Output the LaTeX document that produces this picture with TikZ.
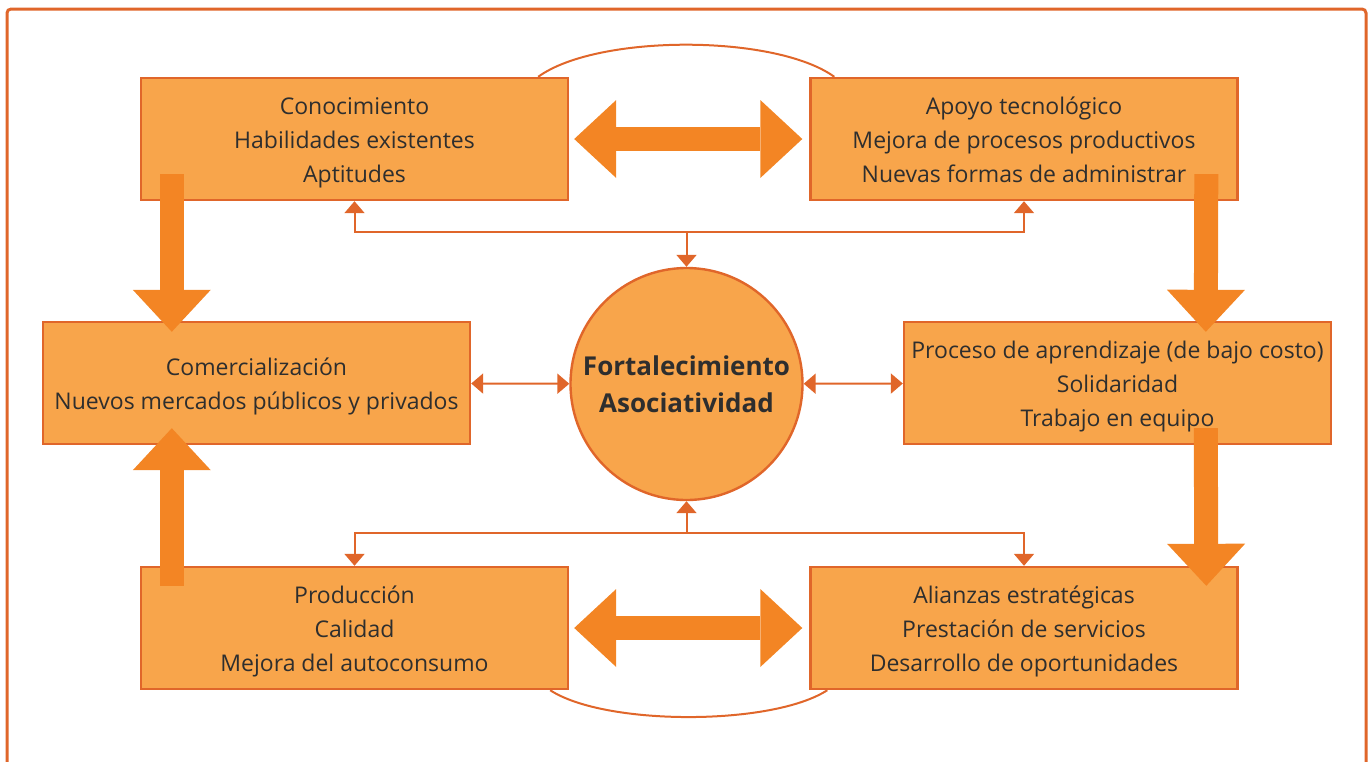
\documentclass[tikz,border=0pt]{standalone}
\usepackage{fontspec}
\setmainfont{Open Sans}
\usetikzlibrary{arrows.meta}
\definecolor{borde}{HTML}{E0662A}
\definecolor{relleno}{HTML}{F8A54B}
\definecolor{flecha}{HTML}{F38524}
\definecolor{texto}{HTML}{2E2E2E}
\newcommand\tope{\rule{0pt}{13pt}}
\begin{document}
\begin{tikzpicture}[x=0.5pt,y=-0.5pt,
  caja/.style={draw=borde, fill=relleno, line width=1.2pt, minimum width=213.5pt, minimum height=61pt, inner sep=0pt, align=center, text=texto, font=\fontsize{11.5}{17}\selectfont,
    execute at end node=\rule[-4pt]{0pt}{4pt}},
  enlace/.style={draw=borde, line width=1pt, {Triangle[width=10pt,length=6pt]}-{Triangle[width=10pt,length=6pt]}},
  grande/.style={draw=flecha, line width=12pt}]
\useasboundingbox (0,0) rectangle (1371,761);
\draw[borde, line width=1.5pt, rounded corners=2pt] (7,770) |- (1366,9) -- (1366,770);
\node[caja] (con) at (354.5,139) {\tope Conocimiento\\Habilidades existentes\\Aptitudes};
\node[caja] (apo) at (1024,139) {\tope Apoyo tecnológico\\Mejora de procesos productivos\\Nuevas formas de administrar};
\node[caja] (com) at (256.5,383) {\tope Comercialización\\Nuevos mercados públicos y privados};
\node[caja] (pro) at (1117.5,383) {\tope Proceso de aprendizaje (de bajo costo)\\Solidaridad\\Trabajo en equipo};
\node[caja] (prd) at (354.5,628) {\tope Producción\\Calidad\\Mejora del autoconsumo};
\node[caja] (ali) at (1024,628) {\tope Alianzas estratégicas\\Prestación de servicios\\Desarrollo de oportunidades};
\node[circle, draw=borde, fill=relleno, line width=1.2pt, minimum size=116pt, inner sep=0pt, align=center, text=texto, font=\fontsize{13}{18.5}\selectfont\bfseries] (fort) at (686.5,384) {Fortalecimiento\\Asociatividad};
% arcos
\draw[borde, line width=1pt] ([shift={(-31,0)}]con.north east) .. controls (597,34) and (775,34) .. ([shift={(25,0)}]apo.north west);
\draw[borde, line width=1pt] ([shift={(-19,0)}]prd.south east) .. controls (605,726) and (772,726) .. ([shift={(18,0)}]ali.south west);
% conectores finos
\coordinate (arr) at (686.5,232);
\coordinate (aba) at (686.5,533);
\draw[enlace] (con.south) |- (arr) -| (apo.south);
\draw[enlace, -{Triangle[width=10pt,length=6pt]}] (arr) -- (fort);
\draw[enlace] (prd.north) |- (aba) -| (ali.north);
\draw[enlace, -{Triangle[width=10pt,length=6pt]}] (aba) -- (fort);
\draw[enlace] (com) -- (fort);
\draw[enlace] (fort) -- (pro);
% flechas grandes
\draw[grande, {Triangle[width=39pt,length=21pt,line width=0pt]}-{Triangle[width=39pt,length=21pt,line width=0pt]}] ([shift={(5,0)}]con.east) -- ([shift={(-7,0)}]apo.west);
\draw[grande, {Triangle[width=39pt,length=21pt,line width=0pt]}-{Triangle[width=39pt,length=21pt,line width=0pt]}] ([shift={(5,0)}]prd.east) -- ([shift={(-7,0)}]ali.west);
\draw[grande, -{Triangle[width=39pt,length=21pt,line width=0pt]}] ([shift={(32,-27)}]con.south west) -- ([shift={(130,11)}]com.north west);
\draw[grande, -{Triangle[width=39pt,length=21pt,line width=0pt]}] ([shift={(397,-27)}]apo.south west) -- ([shift={(303,11)}]pro.north west);
\draw[grande, -{Triangle[width=39pt,length=21pt,line width=0pt]}] ([shift={(303,-17)}]pro.south west) -- ([shift={(397,20)}]ali.north west);
\draw[grande, -{Triangle[width=39pt,length=21pt,line width=0pt]}] ([shift={(32,20)}]prd.north west) -- ([shift={(130,-17)}]com.south west);
\end{tikzpicture}
\end{document}
